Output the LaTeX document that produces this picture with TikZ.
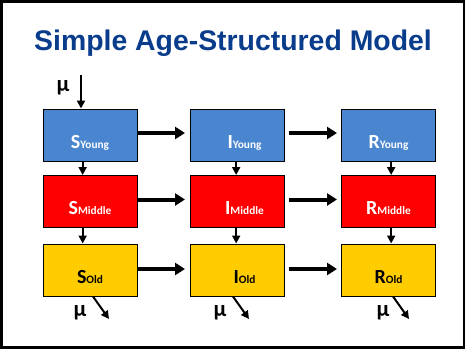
\documentclass[tikz,border=0pt]{standalone}
\usepackage{fontspec}
\setmainfont{Carlito}
\newfontfamily\titlefont{Liberation Sans}
\usepackage{xcolor}
\usetikzlibrary{arrows.meta}
\definecolor{young-blue}{HTML}{4A86D0}
\definecolor{middle-red}{HTML}{FF0000}
\definecolor{old-gold}{HTML}{FFCC00}
\definecolor{title-blue}{HTML}{0A3C8C}

\tikzset{
  agebox/.style={draw, line width=0.75pt, minimum width=70.5pt, minimum height=39pt,
                 inner sep=0pt, text height=19.5pt, text depth=0pt, font=\bfseries},
  flow/.style={-{Triangle[length=7.5pt, width=9pt]}, line width=3pt},
  ageing/.style={-{Triangle[length=6pt, width=6pt]}, line width=1.5pt},
  muval/.style={font=\fontsize{17}{17}\selectfont\bfseries, inner sep=0pt}
}
\newcommand{\comp}[2]{{\fontsize{15}{15}\selectfont #1}{\fontsize{8.5}{8.5}\selectfont #2}}

\begin{document}
\begin{tikzpicture}[x=0.75pt, y=-0.75pt]
    % Diagram: S -> I -> R for three age classes, ageing downwards.
    % Coordinates in px of a 465x350 slide, origin top left, y down.
    %   columns S, I, R at x = 90, 237.5, 388.5
    %   rows Young, Middle, Old at y = 135, 201.5, 270
    %   boxes 94px wide, 52px high
    \useasboundingbox (0,0) rectangle (465,350);
    \draw[line width=1.9pt] (1.5,1.5) rectangle (463.8,347.6);
    \node[font=\titlefont\fontsize{21.3}{22}\selectfont\bfseries, text=title-blue]
          (title) at (233,43) {Simple Age-Structured Model};

    % young
    \node[agebox, fill=young-blue, text=white] (sy) at (90,135) {\comp{S}{Young}};
    \node[agebox, fill=young-blue, text=white] (iy) at (237.5,135) {\hspace*{10.5pt}\comp{I}{Young}};
    \node[agebox, fill=young-blue, text=white] (ry) at (388.5,135) {\comp{R}{Young}};
    % middle
    \node[agebox, fill=middle-red, text=white] (sm) at (90,201.5) {\comp{S}{Middle}};
    \node[agebox, fill=middle-red, text=white] (im) at (237.5,201.5) {\hspace*{10.5pt}\comp{I}{Middle}};
    \node[agebox, fill=middle-red, text=white] (rm) at (388.5,201.5) {\comp{R}{Middle}};
    % old
    \node[agebox, fill=old-gold] (so) at (90,270) {\comp{S}{Old}};
    \node[agebox, fill=old-gold] (io) at (237.5,270) {\hspace*{10.5pt}\comp{I}{Old}};
    \node[agebox, fill=old-gold] (ro) at (388.5,270) {\comp{R}{Old}};

    % infection and recovery
    \draw[flow, shorten >=3.75pt] ([yshift=1.5pt]sy.east) -- ([yshift=1.5pt]iy.west);
    \draw[flow, shorten <=3pt, shorten >=3pt] ([yshift=1.5pt]iy.east) -- ([yshift=1.5pt]ry.west);
    \draw[flow, shorten >=3.75pt] ([yshift=1.5pt]sm.east) -- ([yshift=1.5pt]im.west);
    \draw[flow, shorten <=3pt, shorten >=3pt] ([yshift=1.5pt]im.east) -- ([yshift=1.5pt]rm.west);
    \draw[flow, shorten >=3.75pt] ([yshift=0.75pt]so.east) -- ([yshift=0.75pt]io.west);
    \draw[flow, shorten <=3pt, shorten >=3pt] ([yshift=0.75pt]io.east) -- ([yshift=0.75pt]ro.west);

    % ageing
    \draw[ageing] ([xshift=-5.5pt]sy.south) -- ([xshift=-5.5pt]sm.north);
    \draw[ageing] ([xshift=-5.5pt]sm.south) -- ([xshift=-5.5pt]so.north);
    \draw[ageing] ([xshift=-1pt]iy.south) -- ([xshift=-1pt]im.north);
    \draw[ageing] ([xshift=-1pt]im.south) -- ([xshift=-1pt]io.north);
    \draw[ageing] ([xshift=2pt]ry.south) -- ([xshift=2pt]rm.north);
    \draw[ageing] ([xshift=2pt]rm.south) -- ([xshift=2pt]ro.north);

    % births and deaths
    \coordinate (birth) at (81,75);
    \node[muval] (mubirth) at (63,88) {μ};
    \draw[ageing] (birth) -- (birth |- sy.north);
    \coordinate (sdead) at (109,319);
    \coordinate (idead) at (249,319);
    \coordinate (rdead) at (409,319);
    \node[muval] (mus) at (80,313) {μ};
    \node[muval] (mui) at (220,313) {μ};
    \node[muval] (mur) at (383,313) {μ};
    \draw[ageing] ([xshift=2.25pt]so.south) -- (sdead);
    \draw[ageing] ([xshift=-3.4pt]io.south) -- (idead);
    \draw[ageing] ([xshift=3.4pt]ro.south) -- (rdead);
  \end{tikzpicture}
\end{document}
